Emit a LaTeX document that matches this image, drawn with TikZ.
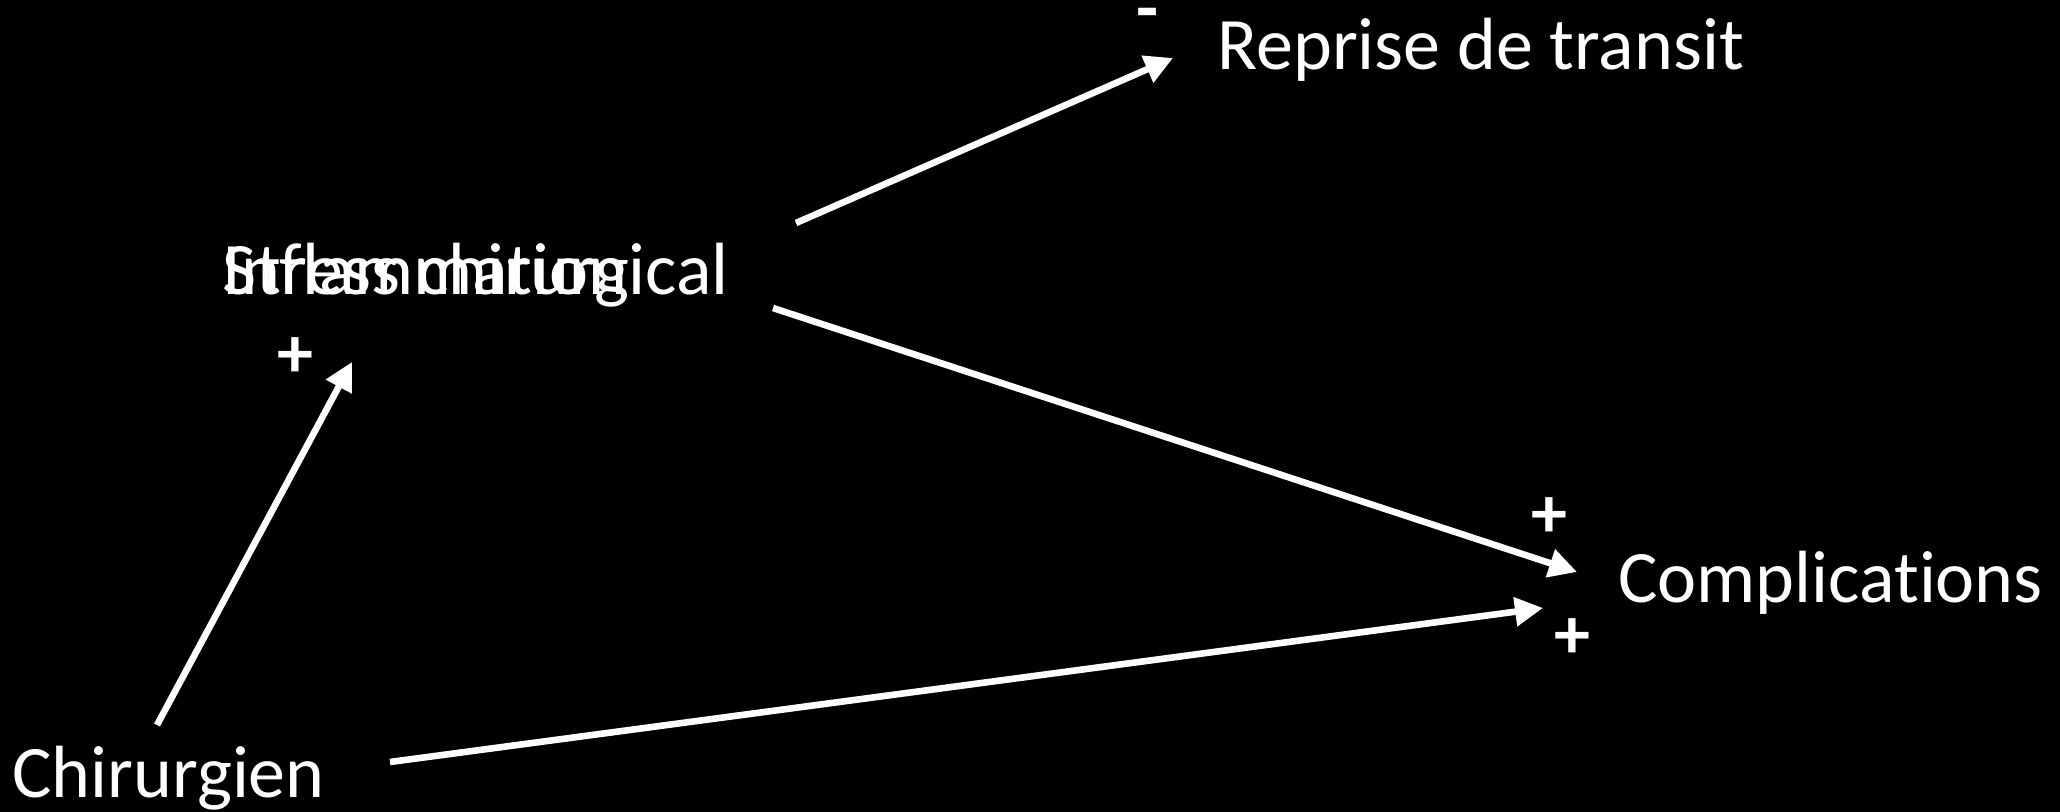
\documentclass[tikz,border=0pt]{standalone}
\usepackage{fontspec}
\setmainfont[Ligatures={NoCommon,NoRare,NoContextual}]{Carlito}
\usetikzlibrary{arrows.meta}
\begin{document}
\begin{tikzpicture}[x=0.5pt,y=-0.5pt,
  lbl/.style={text=white,font=\fontsize{37}{44}\selectfont,inner sep=0pt,anchor=base west},
  sgn/.style={text=white,font=\bfseries\fontsize{36}{42}\selectfont,inner sep=0pt},
  link/.style={draw=white,line width=3.3pt,-{Triangle[length=14pt,width=14pt]}}]
\fill[black] (0,0) rectangle (2060,812);
\useasboundingbox (0,0) rectangle (2060,812);
% texts
\node[lbl] (rep) at (1217,70) {Reprise de transit};
\node[lbl] (str) at (222,295) {Stress chirurgical};
\node[lbl] (inf) at (222,295) {Inflammat\kern0pt ion};
\node[lbl] (chi) at (12,797) {Chirurgien};
\node[lbl] (com) at (1618,602) {Complicat\kern0pt ions};
% signs
\node[sgn] (m1) at (1148,20) {-};
\node[sgn] (p1) at (295,358) {+};
\node[sgn] (p2) at (1549,518) {+};
\node[sgn] (p3) at (1572,639) {+};
% connector ends
\coordinate (strA) at (796,223);
\coordinate (strB) at (773,308);
\coordinate (repT) at (1173,58);
\coordinate (infT) at (352,362);
\coordinate (chiA) at (157,725);
\coordinate (chiB) at (390,762);
\coordinate (comA) at (1577,572);
\coordinate (comB) at (1543,608);
% connectors
\draw[link] (strA) -- (repT);
\draw[link] (strB) -- (comA);
\draw[link] (chiA) -- (infT);
\draw[link] (chiB) -- (comB);
\end{tikzpicture}
\end{document}
